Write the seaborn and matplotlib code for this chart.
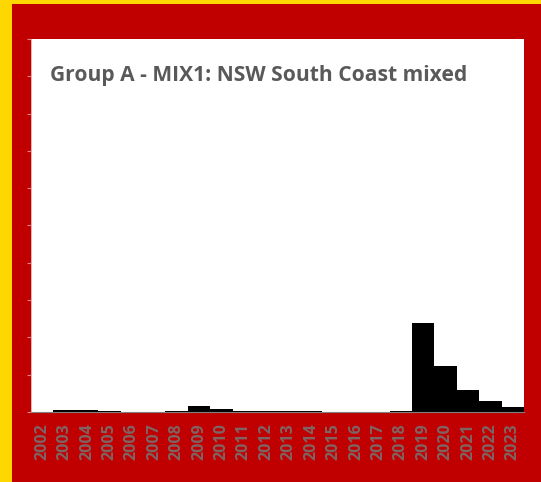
import matplotlib
matplotlib.use("Agg")
import matplotlib.pyplot as plt
import seaborn as sns
import pandas as pd
from matplotlib.patches import Rectangle

years = [str(y) for y in range(2002, 2024)]
values = [0.0, 0.045, 0.045, 0.02, 0.0, 0.0, 0.02, 0.16, 0.07, 0.035, 0.035,
          0.035, 0.035, 0.01, 0.01, 0.01, 0.04, 2.39, 1.23, 0.59, 0.29, 0.13]
title = "Group A - MIX1: NSW South Coast mixed"

df = pd.DataFrame({"year": years, "value": values})

sns.set_theme(style="white")
plt.rcParams['font.family'] = ['Open Sans', 'DejaVu Sans']

W, H = 541, 482
fig = plt.figure(figsize=(W / 100, H / 100), dpi=100)
fig.patch.set_facecolor("#FFD700")
fig.patches.append(Rectangle((12 / W, 0), 1 - 12 / W, 1 - 4 / H,
                             transform=fig.transFigure, facecolor="#C00000",
                             edgecolor="none", zorder=-10))

ax = fig.add_axes([31 / W, (H - 412) / H, (524 - 31) / W, (412 - 39) / H])
ax.set_zorder(1)
ax.set_facecolor("white")
sns.barplot(data=df, x="year", y="value", color="black", width=1.0,
            saturation=1, ax=ax, edgecolor="black", linewidth=0)
ax.set_xlim(-0.5, len(years) - 0.5)
ax.set_ylim(0, 10)
ax.set_yticks(range(0, 11))
ax.set_yticklabels([])
ax.tick_params(axis="y", left=True, length=3, width=0.8, color="#E88080",
               pad=0)
ax.tick_params(axis="x", bottom=False, length=0, pad=8)
for lab in ax.get_xticklabels():
    lab.set_rotation(90)
    lab.set_fontsize(11.5)
    lab.set_fontweight("bold")
    lab.set_color("#7F6464")
ax.set_xlabel("")
ax.set_ylabel("")
for s in ["top", "right"]:
    ax.spines[s].set_visible(False)
ax.spines["left"].set_color("#E8A0A0")
ax.spines["left"].set_linewidth(0.6)
ax.spines["bottom"].set_color("#808080")
ax.spines["bottom"].set_linewidth(0.8)

fig.text(50 / W, 1 - 76 / H, title, fontsize=15.1, fontweight="bold",
         color="#595959", ha="left", va="center", zorder=5)

fig.savefig("out.png", dpi=100, facecolor=fig.get_facecolor())
